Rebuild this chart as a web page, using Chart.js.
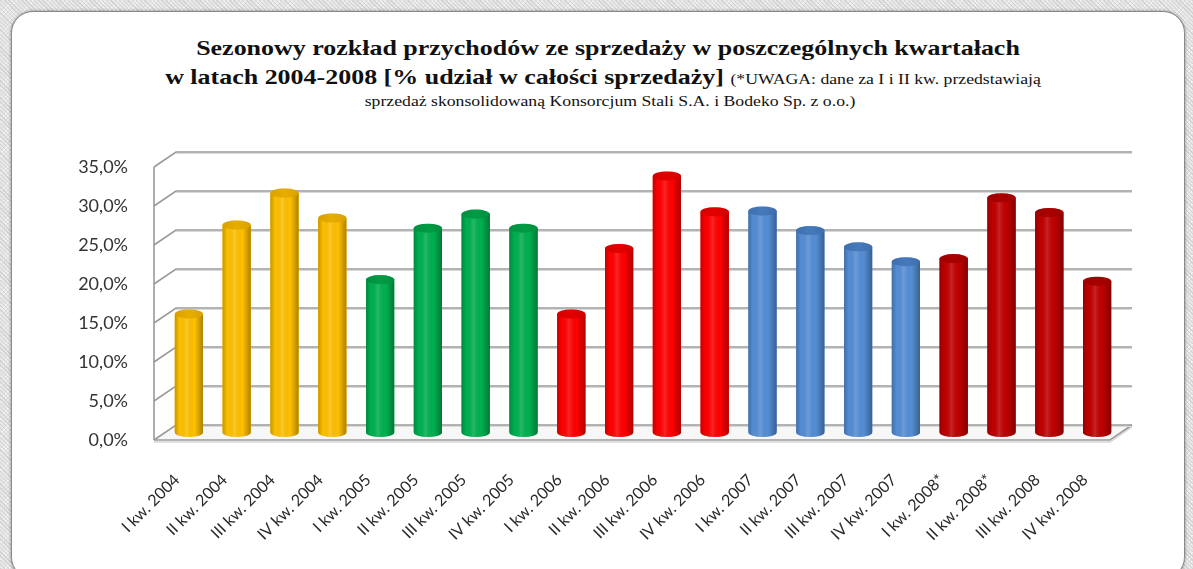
<!DOCTYPE html>
<html>
<head>
<meta charset="utf-8">
<script src="https://cdn.jsdelivr.net/npm/chart.js@4.4.1/dist/chart.umd.min.js"></script>
<style>
  html,body{margin:0;padding:0;}
  body{width:1193px;height:569px;overflow:hidden;position:relative;
    background-color:#e4e4e4;
    background-image:repeating-linear-gradient(45deg,#d2d2d2 0 1px,transparent 1px 3px),repeating-linear-gradient(-45deg,#f2f2f2 0 1px,transparent 1px 3px);}
  #card{position:absolute;left:11px;top:11px;width:1172px;height:566px;background:#fff;
    border:1px solid #8a8a8a;border-radius:22px;box-shadow:0 0 3px rgba(0,0,0,0.45);}
  .t{position:absolute;white-space:nowrap;text-align:center;font-family:"Liberation Serif","Times New Roman",serif;color:#111;
     transform:scaleX(1.18);transform-origin:center;line-height:1;}
  #l1{left:0;width:1216px;top:37px;font-size:22px;font-weight:bold;}
  #l2{left:0;width:1206px;top:66px;font-size:22px;font-weight:bold;}
  #l2 span{font-size:15px;font-weight:normal;}
  #l3{left:0;width:1220px;top:94px;font-size:15px;}
  canvas{position:absolute;left:0;top:0;}
</style>
</head>
<body>
<div id="card"></div>
<div class="t" id="l1">Sezonowy rozkład przychodów ze sprzedaży w poszczególnych kwartałach</div>
<div class="t" id="l2">w latach 2004-2008 [% udział w całości sprzedaży] <span>(*UWAGA: dane za I i II kw. przedstawiają</span></div>
<div class="t" id="l3">sprzedaż skonsolidowaną Konsorcjum Stali S.A. i Bodeko Sp. z o.o.)</div>
<canvas id="c" width="1193" height="569"></canvas>
<script>
const categories = [
  "I kw. 2004","II kw. 2004","III kw. 2004","IV kw. 2004",
  "I kw. 2005","II kw. 2005","III kw. 2005","IV kw. 2005",
  "I kw. 2006","II kw. 2006","III kw. 2006","IV kw. 2006",
  "I kw. 2007","II kw. 2007","III kw. 2007","IV kw. 2007",
  "I kw. 2008*","II kw. 2008*","III kw. 2008","IV kw. 2008"
];
const shares = [
  15.2, 26.6, 30.7, 27.5,
  19.6, 26.2, 28.0, 26.2,
  15.2, 23.6, 32.9, 28.3,
  28.4, 25.9, 23.8, 21.9,
  22.3, 30.1, 28.2, 19.4
];
const yTicks = [0, 5, 10, 15, 20, 25, 30, 35];

// style: colour per year group of 4 quarters
const groupColors = ['#FFC000', '#00B050', '#FF0000', '#558ED5', '#C00000'];
const groupCaps   = ['#D9A200', '#00903F', '#D40000', '#3E6FAE', '#9E0000'];
const DX = 11, DY = 7.5; // half depth offsets

function colorOf(i){ return groupColors[Math.floor(i/4)]; }

const wallsPlugin = {
  id: 'walls',
  beforeDatasetsDraw(chart){
    const {ctx, chartArea:a, scales:{y}} = chart;
    ctx.save();
    const y0 = y.getPixelForValue(0), yTop = y.getPixelForValue(35);
    // floor
    ctx.beginPath();
    ctx.moveTo(a.left - DX, y0 + DY);
    ctx.lineTo(a.right - DX, y0 + DY);
    ctx.lineTo(a.right + DX, y0 - DY);
    ctx.lineTo(a.left + DX, y0 - DY);
    ctx.closePath();
    ctx.fillStyle = '#f7f7f7';
    ctx.fill();
    // floor thickness
    ctx.strokeStyle = '#d6d6d6'; ctx.lineWidth = 1.5;
    ctx.beginPath();
    ctx.moveTo(a.left - DX, y0 + DY + 2); ctx.lineTo(a.right - DX, y0 + DY + 2); ctx.lineTo(a.right + DX, y0 - DY + 2);
    ctx.stroke();
    ctx.strokeStyle = '#9a9a9a'; ctx.lineWidth = 1.6;
    ctx.beginPath();
    ctx.moveTo(a.left - DX, y0 + DY);
    ctx.lineTo(a.right - DX, y0 + DY);
    ctx.lineTo(a.right + DX, y0 - DY);
    ctx.stroke();
    // back wall grid lines + side wall diagonals
    yTicks.forEach(v => {
      const py = y.getPixelForValue(v);
      ctx.strokeStyle = '#d9d9d9'; ctx.lineWidth = 1;
      ctx.beginPath();
      ctx.moveTo(a.left + DX, py - DY + 1.5); ctx.lineTo(a.right + DX, py - DY + 1.5);
      ctx.stroke();
      ctx.strokeStyle = '#9a9a9a'; ctx.lineWidth = 1.6;
      ctx.beginPath();
      ctx.moveTo(a.left - DX, py + DY);
      ctx.lineTo(a.left + DX, py - DY);
      ctx.lineTo(a.right + DX, py - DY);
      ctx.stroke();
    });
    // front-left vertical edge
    ctx.beginPath();
    ctx.moveTo(a.left - DX, y0 + DY);
    ctx.lineTo(a.left - DX, yTop + DY);
    ctx.stroke();
    ctx.restore();
  }
};

const cylinderPlugin = {
  id: 'cyl',
  afterDatasetsDraw(chart){
    const ctx = chart.ctx;
    const meta = chart.getDatasetMeta(0);
    meta.data.forEach((el, i) => {
      const {x, y, base, width} = el.getProps(['x','y','base','width'], true);
      const w = width, l = x - w/2, r = x + w/2, ry = 4.5;
      ctx.save();
      // body path
      ctx.beginPath();
      ctx.moveTo(l, y);
      ctx.lineTo(l, base);
      ctx.ellipse(x, base, w/2, ry, 0, Math.PI, 0, true);
      ctx.lineTo(r, y);
      ctx.closePath();
      ctx.fillStyle = colorOf(i);
      ctx.fill();
      const g = ctx.createLinearGradient(l, 0, r, 0);
      g.addColorStop(0, 'rgba(0,0,0,0.22)');
      g.addColorStop(0.18, 'rgba(0,0,0,0)');
      g.addColorStop(0.42, 'rgba(255,255,255,0.14)');
      g.addColorStop(0.7, 'rgba(0,0,0,0)');
      g.addColorStop(1, 'rgba(0,0,0,0.32)');
      ctx.fillStyle = g;
      ctx.fill();
      // top cap
      ctx.beginPath();
      ctx.ellipse(x, y, w/2, ry, 0, 0, Math.PI*2);
      const cg = ctx.createLinearGradient(l, 0, r, 0);
      cg.addColorStop(0, groupCaps[Math.floor(i/4)]);
      cg.addColorStop(0.5, colorOf(i));
      cg.addColorStop(1, groupCaps[Math.floor(i/4)]);
      ctx.fillStyle = groupCaps[Math.floor(i/4)];
      ctx.fill();
      ctx.globalAlpha = 0.35;
      ctx.fillStyle = cg;
      ctx.fill();
      ctx.restore();
    });
  }
};

new Chart(document.getElementById('c'), {
  type: 'bar',
  data: {
    labels: categories,
    datasets: [{
      data: shares,
      backgroundColor: shares.map((_, i) => colorOf(i)),
      borderWidth: 0,
      barPercentage: 0.59,
      categoryPercentage: 1.0
    }]
  },
  options: {
    responsive: false,
    animation: false,
    devicePixelRatio: 1,
    layout: { padding: { left: 0, right: 72, top: 159.5, bottom: 0 } },
    plugins: { legend: { display: false }, tooltip: { enabled: false }, title: { display: false } },
    scales: {
      x: {
        grid: { display: false, drawTicks: false },
        border: { display: false },
        ticks: {
          autoSkip: false, maxRotation: 45, minRotation: 45,
          labelOffset: -12, padding: 38,
          color: '#2a2a2a', font: { family: 'Lato', size: 16 }
        },
        afterFit(s){ s.height = 136.5; }
      },
      y: {
        min: 0, max: 35,
        grid: { display: false, drawTicks: false },
        border: { display: false },
        ticks: {
          stepSize: 5, padding: 37, labelOffset: 8,
          color: '#333333', font: { family: 'Lato', size: 18 },
          callback: v => v.toFixed(1).replace('.', ',') + '%'
        },
        afterFit(s){ s.width = 165; }
      }
    }
  },
  plugins: [wallsPlugin, cylinderPlugin]
});
</script>
</body>
</html>
